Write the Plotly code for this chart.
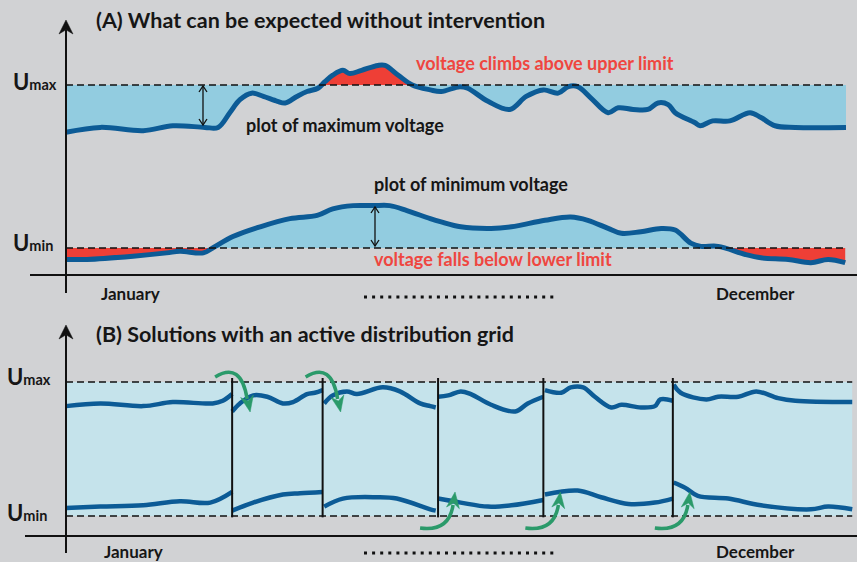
import numpy as np
import plotly.graph_objects as go

# ---------------- data ----------------
# time: position in the year in % (0 = start of January, 100 = end of December)
# voltage: normalised so that U_min = 0 and U_max = 1
U_MIN = 0.0
U_MAX = 1.0

# (A) without intervention
A_max_t = [0, 4.4, 9.9, 13.7, 17.8, 19.5, 21.0, 22.3, 23.8, 25.3, 27.1, 28.1, 29.6, 30.9, 32.3, 33.2,
           34.2, 35.5, 36.4, 37.9, 40.0, 40.9, 42.6, 44.4, 46.7, 48.1, 50.5, 51.5, 54.1, 56.9, 59.0,
           61.2, 63.1, 64.4, 65.6, 67.3, 69.5, 70.8, 72.7, 74.6, 75.9, 77.2, 78.1, 80.6, 81.3, 82.9,
           85.1, 87.7, 89.1, 90.9, 93.5, 100]
A_max_v = [0.71, 0.74, 0.72, 0.75, 0.74, 0.74, 0.83, 0.91, 0.95, 0.93, 0.90, 0.89, 0.93, 0.96, 0.98, 1.02,
           1.06, 1.09, 1.07, 1.09, 1.12, 1.12, 1.06, 1.00, 0.97, 0.96, 0.99, 0.98, 0.90, 0.85, 0.93,
           0.97, 0.95, 0.99, 0.99, 0.92, 0.83, 0.86, 0.85, 0.85, 0.89, 0.88, 0.83, 0.77, 0.75, 0.78,
           0.78, 0.83, 0.80, 0.75, 0.74, 0.74]
A_min_t = [0, 2.7, 8.6, 12.9, 14.6, 17.6, 18.8, 21.4, 24.9, 28.7, 32.2, 34.2, 36.8, 39.4, 41.5, 43.7,
           46.7, 48.1, 50.6, 54.5, 57.1, 61.4, 64.7, 66.9, 69.5, 71.2, 73.7, 76.3, 78.1, 80.1, 81.4,
           83.6, 87.1, 89.1, 92.6, 95.5, 97.7, 99.9]
A_min_v = [-0.07, -0.07, -0.05, -0.03, -0.02, -0.03, 0.00, 0.07, 0.13, 0.18, 0.20, 0.24, 0.26, 0.26,
           0.26, 0.23, 0.18, 0.16, 0.13, 0.12, 0.13, 0.17, 0.19, 0.17, 0.12, 0.09, 0.10, 0.12, 0.11,
           0.03, 0.01, 0.01, -0.04, -0.06, -0.07, -0.09, -0.07, -0.09]

# (B) with an active distribution grid: interventions split the year into segments
B_bounds = [21.3, 32.9, 47.7, 61.2, 77.8]
B_end = 100.8
B_max_t = [[0, 4.4, 9.9, 13.7, 18.8, 20.1, 21.3],
           [21.3, 22.3, 24.0, 25.8, 27.8, 29.1, 30.9, 31.9, 32.9],
           [33.1, 34.2, 36.0, 37.3, 40.6, 42.8, 45.4, 46.7, 47.4],
           [47.7, 49.0, 50.6, 51.9, 54.5, 57.6, 59.2, 61.2],
           [61.4, 63.5, 64.7, 66.3, 67.8, 69.9, 71.2, 73.7, 75.5, 76.2, 77.8],
           [77.9, 78.8, 82.1, 83.6, 86.2, 88.5, 91.3, 93.5, 100.8]]
B_max_v = [[0.82, 0.84, 0.82, 0.85, 0.84, 0.86, 0.91],
           [0.78, 0.84, 0.90, 0.89, 0.84, 0.85, 0.91, 0.92, 0.94],
           [0.84, 0.90, 0.93, 0.91, 0.96, 0.93, 0.84, 0.82, 0.81],
           [0.89, 0.90, 0.93, 0.91, 0.83, 0.78, 0.84, 0.89],
           [0.94, 0.92, 0.96, 0.96, 0.89, 0.81, 0.83, 0.81, 0.82, 0.87, 0.86],
           [0.98, 0.92, 0.87, 0.89, 0.89, 0.93, 0.88, 0.86, 0.85]]
B_min_t = [[0, 4.4, 9.9, 14.6, 18.5, 21.3],
           [21.3, 24.0, 27.8, 30.0, 32.9],
           [33.1, 35.5, 39.9, 42.4, 46.7, 47.4],
           [47.7, 50.6, 54.1, 57.1, 61.2],
           [61.4, 65.6, 68.6, 72.1, 75.5, 77.8],
           [77.9, 79.4, 81.0, 84.9, 89.1, 95.5, 97.7, 100.8]]
B_min_v = [[0.06, 0.07, 0.08, 0.11, 0.10, 0.18],
           [0.04, 0.10, 0.16, 0.17, 0.18],
           [0.07, 0.13, 0.14, 0.13, 0.05, 0.04],
           [0.13, 0.10, 0.07, 0.08, 0.12],
           [0.16, 0.19, 0.14, 0.09, 0.10, 0.13],
           [0.25, 0.21, 0.15, 0.13, 0.08, 0.05, 0.07, 0.05]]

title_A = "(A) What can be expected without intervention"
title_B = "(B) Solutions with an active distribution grid"
month_labels = ["January", "December"]

# ---------------- style ----------------
W, H = 857, 562
BG = "#d1d2d4"
LINE = "#0c5b96"
FILL_A = "#92cce0"
FILL_B = "#c5e3eb"
RED = "#ee3f36"
RED_TXT = "#ef4640"
GREEN = "#2b9a6a"
FONT = "Lato"

X0PX, PXT = 66.0, 7.8            # pixel of t=0, pixels per %
SPLIT = 290.0                    # pixel row separating the two panels
A0, AS = 248.0, 163.0            # panel A: pixel of U_min, pixels per unit
B0, BS = 516.0, 134.0            # panel B
XR = [-X0PX / PXT, (W - X0PX) / PXT]


def px_of_t(t):
    return X0PX + PXT * t


def P(px, py):
    return px / W, 1 - py / H


def split_at(t, v, L):
    tt, vv = [t[0]], [v[0]]
    for i in range(1, len(t)):
        a, b = v[i - 1] - L, v[i] - L
        if a * b < 0:
            f = a / (a - b)
            tt.append(t[i - 1] + f * (t[i] - t[i - 1]))
            vv.append(L)
        tt.append(t[i])
        vv.append(v[i])
    return np.array(tt), np.array(vv)


fig = go.Figure()


def band(t, v, L, side, color):
    tt, vv = split_at(t, v, L)
    edge = np.minimum(vv, L) if side == "below" else np.maximum(vv, L)
    xs = list(tt) + list(tt[::-1])
    ys = list(edge) + [L] * len(tt)
    fig.add_trace(go.Scatter(x=xs, y=ys, mode="lines", fill="toself", fillcolor=color,
                             line=dict(width=0), hoverinfo="skip", xaxis="x", yaxis="y"))


band(A_max_t, A_max_v, U_MAX, "below", FILL_A)
band(A_max_t, A_max_v, U_MAX, "above", RED)
band(A_min_t, A_min_v, U_MIN, "above", FILL_A)
band(A_min_t, A_min_v, U_MIN, "below", RED)

for t, v in [(A_max_t, A_max_v), (A_min_t, A_min_v)]:
    fig.add_trace(go.Scatter(x=t, y=v, mode="lines", hoverinfo="skip", xaxis="x", yaxis="y",
                             line=dict(color=LINE, width=5, shape="spline", smoothing=1.0)))

for ts, vs in [(B_max_t, B_max_v), (B_min_t, B_min_v)]:
    for t, v in zip(ts, vs):
        fig.add_trace(go.Scatter(x=t, y=v, mode="lines", hoverinfo="skip", xaxis="x2", yaxis="y2",
                                 line=dict(color=LINE, width=4.5, shape="spline", smoothing=1.0)))

shapes = []
# panel B permitted band
shapes.append(dict(type="rect", xref="x2", yref="y2", x0=0, x1=B_end, y0=U_MIN, y1=U_MAX,
                   fillcolor=FILL_B, line=dict(width=0), layer="below"))
# limit lines
for ax, yax, xend in [("x", "y", 100), ("x2", "y2", B_end)]:
    for lim in (U_MIN, U_MAX):
        shapes.append(dict(type="line", xref=ax, yref=yax, x0=0, x1=xend, y0=lim, y1=lim,
                           line=dict(color="#111111", width=1.4, dash="7px,4px")))
# segment separators
for b in B_bounds:
    shapes.append(dict(type="line", xref="x2", yref="y2", x0=b, x1=b, y0=-0.01, y1=1.03,
                       line=dict(color="#111111", width=2)))


def line_px(x0, y0, x1, y1, color="#111111", width=2, dash=None):
    a, b = P(x0, y0)
    c, d = P(x1, y1)
    shapes.append(dict(type="line", xref="paper", yref="paper", x0=a, y0=b, x1=c, y1=d,
                       line=dict(color=color, width=width, dash=dash)))


def pstr(pts):
    return " L ".join("%.5f,%.5f" % P(x, y) for x, y in pts)


def head(tip, d, L, Wd, color):
    dx, dy = d
    n = (dx * dx + dy * dy) ** 0.5
    dx, dy = dx / n, dy / n
    nx, ny = -dy, dx
    bx, by = tip[0] - L * dx, tip[1] - L * dy
    kx, ky = tip[0] - 0.7 * L * dx, tip[1] - 0.7 * L * dy
    pts = [tip, (bx + Wd / 2 * nx, by + Wd / 2 * ny), (kx, ky), (bx - Wd / 2 * nx, by - Wd / 2 * ny)]
    shapes.append(dict(type="path", xref="paper", yref="paper", path="M " + pstr(pts) + " Z",
                       fillcolor=color, line=dict(color=color, width=0.5)))


def curve(p0, p1, p2, color, width):
    s = "M %.5f,%.5f Q %.5f,%.5f %.5f,%.5f" % (P(*p0) + P(*p1) + P(*p2))
    shapes.append(dict(type="path", xref="paper", yref="paper", path=s,
                       line=dict(color=color, width=width)))


def open_path(pts, width=1.3):
    shapes.append(dict(type="path", xref="paper", yref="paper", path="M " + pstr(pts),
                       line=dict(color="#111111", width=width)))


# coordinate axes
line_px(66, 293, 66, 30)
head((66, 20), (0, -1), 14, 14, "#111111")
line_px(30, 275, 857, 275)
line_px(66, 553, 66, 335)
head((66, 325), (0, -1), 14, 14, "#111111")
line_px(25, 536, 857, 536)

# dotted "......" between the month labels
for y in (297, 553):
    line_px(364, y, 554, y, width=3, dash="3px,5.1px")

# double arrows (headroom) in panel A
for x, y0, y1 in [(203, 86, 125), (375, 207, 246)]:
    open_path([(x, y0), (x, y1)])
    open_path([(x - 4, y0 + 6), (x, y0), (x + 4, y0 + 6)])
    open_path([(x - 4, y1 - 6), (x, y1), (x + 4, y1 - 6)])

# green intervention arrows
for b in B_bounds[:2]:
    bx = px_of_t(b)
    curve((bx - 17, 377), (bx + 9, 361), (bx + 15, 399), GREEN, 3.5)
    head((bx + 18, 412), (3, 15), 16, 13, GREEN)
for b in B_bounds[2:]:
    bx = px_of_t(b)
    curve((bx - 18, 528), (bx + 11, 532), (bx + 15, 505), GREEN, 3.5)
    head((bx + 17, 492), (2, -15), 16, 13, GREEN)

ann = []


def text(px, py, s, size, color="#161616", anchor="left"):
    x, y = P(px, py)
    ann.append(dict(x=x, y=y, xref="paper", yref="paper", text=s, showarrow=False,
                    xanchor=anchor, yanchor="middle",
                    font=dict(family=FONT, size=size, color=color, weight=700)))


text(94, 20, title_A, 21.5)
text(94, 334, title_B, 21.5)
text(244, 125, "plot of maximum voltage", 18)
text(372, 184, "plot of minimum voltage", 18)
text(414, 63, "voltage climbs above upper limit", 18, RED_TXT)
text(372, 259, "voltage falls below lower limit", 18, RED_TXT)
text(99, 293, month_labels[0], 17)
text(714, 293, month_labels[1], 17)
text(102, 551, month_labels[0], 17)
text(714, 551, month_labels[1], 17)

UMAX = "U<span style='font-size:14.5px'>max</span>"
UMIN = "U<span style='font-size:14.5px'>min</span>"
text(11, 82, UMAX, 22)
text(11, 242, UMIN, 22)
text(5, 376, UMAX, 22)
text(5, 512, UMIN, 22)

fig.update_layout(
    width=W, height=H, margin=dict(l=0, r=0, t=0, b=0, pad=0),
    paper_bgcolor=BG, plot_bgcolor=BG, showlegend=False,
    xaxis=dict(range=XR, domain=[0, 1], visible=False, anchor="y", fixedrange=True),
    yaxis=dict(range=[(A0 - SPLIT) / AS, A0 / AS], domain=[1 - SPLIT / H, 1], visible=False,
               anchor="x", fixedrange=True),
    xaxis2=dict(range=XR, domain=[0, 1], visible=False, anchor="y2", fixedrange=True),
    yaxis2=dict(range=[(B0 - H) / BS, (B0 - SPLIT) / BS], domain=[0, 1 - SPLIT / H], visible=False,
                anchor="x2", fixedrange=True),
    shapes=shapes, annotations=ann,
)

fig.write_html("out.html", config={"displayModeBar": False},
               post_script="document.body.style.margin='0';document.body.style.overflow='hidden';")
